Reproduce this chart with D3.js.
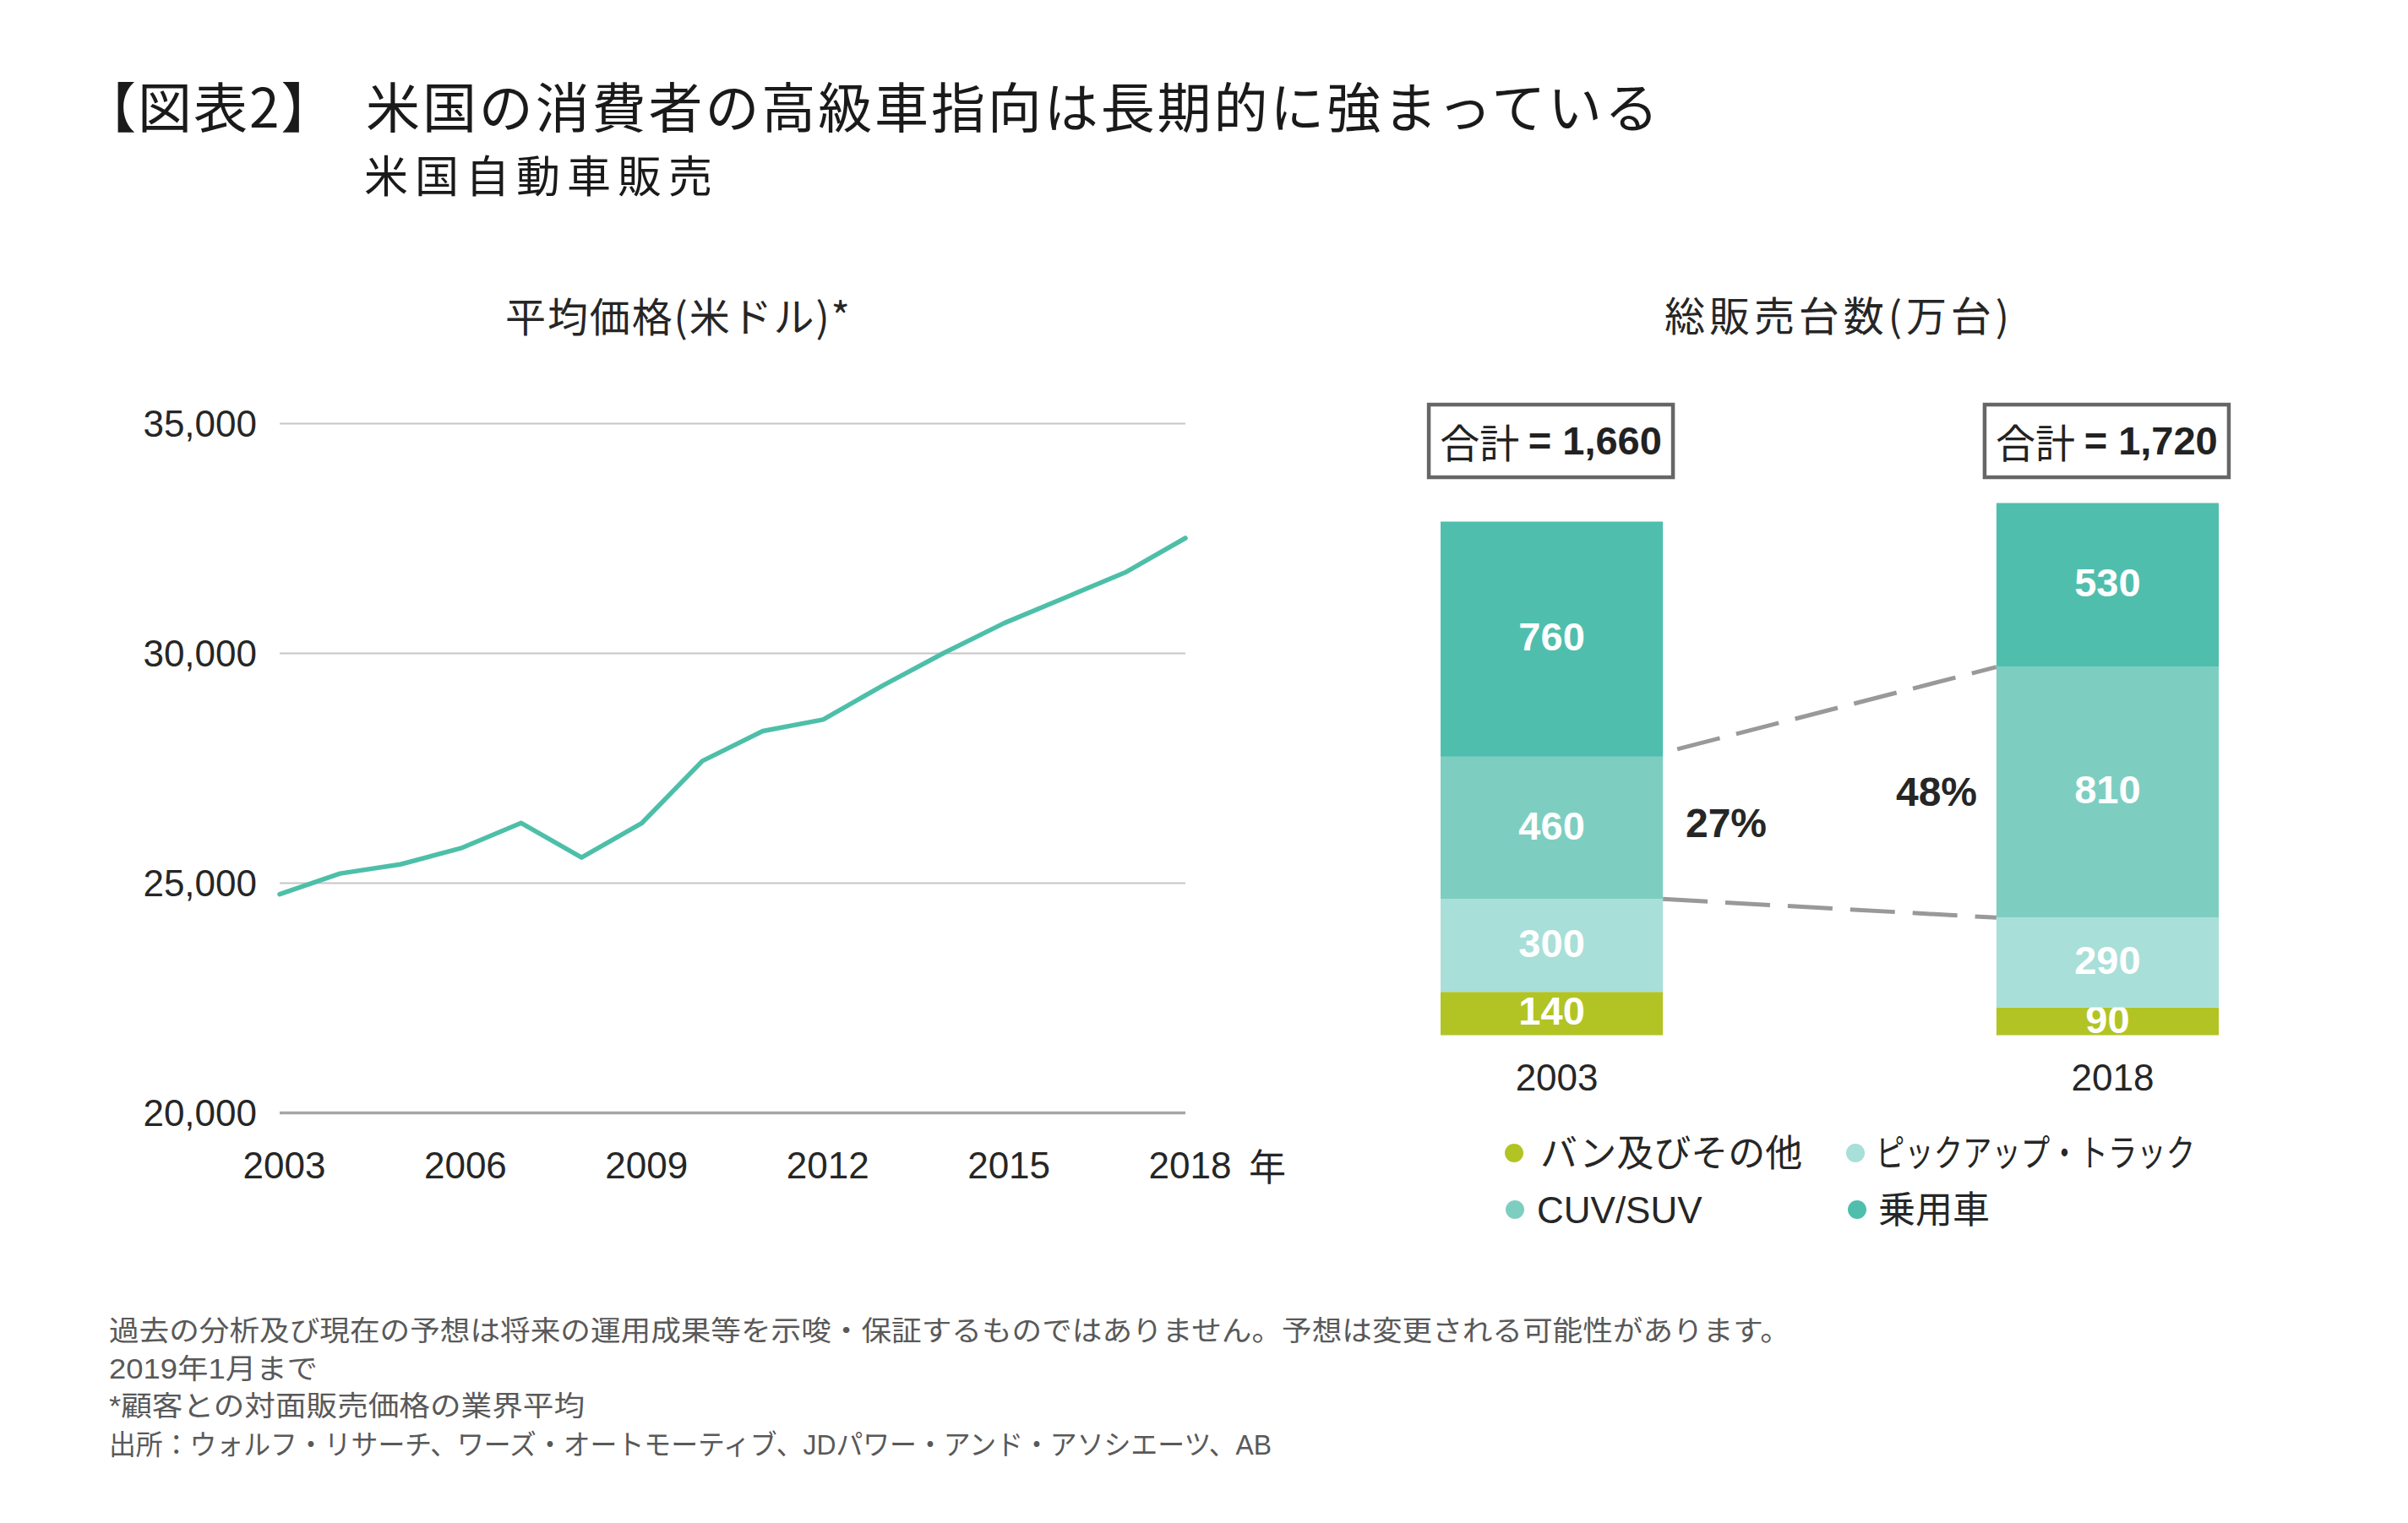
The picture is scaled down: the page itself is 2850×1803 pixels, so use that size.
<!DOCTYPE html>
<html><head><meta charset="utf-8">
<script src="https://cdn.jsdelivr.net/npm/d3@7"></script>
<style>
html,body{margin:0;padding:0;background:#fff;}
text{font-family:"Liberation Sans","Noto Sans CJK JP",sans-serif;}
.jp{font-family:"Noto Sans CJK JP","Liberation Sans",sans-serif;}
</style></head>
<body>
<svg id="chart" width="2850" height="1803"></svg>
<script>
// ---------- Data ----------
const titleTag = "【図表2】";
const titleText = "米国の消費者の高級車指向は長期的に強まっている";
const subtitleText = "米国自動車販売";
const leftTitle = "平均価格(米ドル)*";
const rightTitle = "総販売台数(万台)";

const priceYears = [2003,2004,2005,2006,2007,2008,2009,2010,2011,2012,2013,2014,2015,2016,2017,2018];
const avgPrice   = [24750,25200,25400,25750,26300,25550,26300,27650,28300,28550,29300,30000,30650,31200,31750,32500];
const priceTicks = [20000,25000,30000,35000];
const yearTicks  = [2003,2006,2009,2012,2015,2018];
const yearUnit   = "年";

const salesYears = ["2003","2018"];
const segmentNames = ["バン及びその他","ピックアップ・トラック","CUV/SUV","乗用車"];
const segmentKeys  = ["van","pickup","cuv","car"];
const vanOther = [140, 90];
const pickup   = [300, 290];
const cuvSuv   = [460, 810];
const cars     = [760, 530];
const totals   = [1660, 1720];
const cuvShare = ["27%","48%"];
const segmentColors = ["#b1c424","#a8dfd8","#7dcec1","#50bead"];

const footnotes = [
  "過去の分析及び現在の予想は将来の運用成果等を示唆・保証するものではありません。予想は変更される可能性があります。",
  "2019年1月まで",
  "*顧客との対面販売価格の業界平均",
  "出所：ウォルフ・リサーチ、ワーズ・オートモーティブ、JDパワー・アンド・アソシエーツ、AB"
];

// ---------- Drawing ----------
const svg = d3.select("#chart");
svg.append("rect").attr("width",2850).attr("height",1803).attr("fill","#fff");

// Titles
svg.append("text").attr("class","jp").attr("x",97).attr("y",123)
  .attr("dominant-baseline","central").attr("font-size",64).attr("fill","#1a1a1a")
  .attr("letter-spacing",2).text(titleTag);
svg.append("text").attr("class","jp").attr("x",433).attr("y",123)
  .attr("dominant-baseline","central").attr("font-size",64).attr("fill","#1a1a1a")
  .attr("textLength",1530).attr("lengthAdjust","spacing").text(titleText);
svg.append("text").attr("class","jp").attr("x",431).attr("y",205)
  .attr("dominant-baseline","central").attr("font-size",52).attr("fill","#1a1a1a")
  .attr("textLength",412).attr("lengthAdjust","spacing").text(subtitleText);

// ---------- Line chart ----------
const x = d3.scaleLinear().domain([2003,2018]).range([331,1403]);
const y = d3.scaleLinear().domain([20000,35000]).range([1317,501]);

svg.append("text").attr("class","jp").attr("x",598).attr("y",372)
  .attr("dominant-baseline","central").attr("font-size",48).attr("fill","#262626")
  .attr("textLength",408).attr("lengthAdjust","spacing").text(leftTitle);

const yAxis = svg.append("g").attr("transform","translate(331,0)")
  .call(d3.axisLeft(y).tickValues(priceTicks).tickSize(-(1403-331)).tickFormat(d3.format(",")).tickPadding(27));
yAxis.select(".domain").remove();
yAxis.selectAll(".tick line").attr("stroke",d=>d===20000?"#a6a6a6":"#c6c6c6").attr("stroke-width",d=>d===20000?3.5:2);
yAxis.selectAll(".tick text").attr("font-size",44).attr("fill","#262626")
  .attr("font-family","Liberation Sans").attr("dy","0.35em");

const xAxis = svg.append("g").attr("transform","translate(5,1317)")
  .call(d3.axisBottom(x).tickValues(yearTicks).tickSize(0).tickFormat(d3.format("d")).tickPadding(63));
xAxis.select(".domain").remove();
xAxis.selectAll(".tick text").attr("font-size",44).attr("fill","#262626")
  .attr("font-family","Liberation Sans").attr("dy","0.35em");
svg.append("text").attr("class","jp").attr("x",1500).attr("y",1379)
  .attr("text-anchor","middle").attr("dominant-baseline","central")
  .attr("font-size",44).attr("fill","#262626").text(yearUnit);

const line = d3.line().x((d,i)=>x(priceYears[i])).y(d=>y(d));
svg.append("path").datum(avgPrice).attr("d",line)
  .attr("fill","none").attr("stroke","#4dbfa9").attr("stroke-width",5.5)
  .attr("stroke-linejoin","round").attr("stroke-linecap","round");

// ---------- Stacked bars ----------
const rows = salesYears.map((yr,i)=>({year:yr, van:vanOther[i], pickup:pickup[i], cuv:cuvSuv[i], car:cars[i]}));
const stack = d3.stack().keys(segmentKeys)(rows);
const xb = d3.scaleBand().domain(salesYears).range([1705,2626]).paddingInner(0.6).paddingOuter(0);
const yb = d3.scaleLinear().domain([0,1720]).range([1225.5,595.5]);

svg.append("text").attr("class","jp").attr("x",1970).attr("y",371)
  .attr("dominant-baseline","central").attr("font-size",48).attr("fill","#262626")
  .attr("textLength",408).attr("lengthAdjust","spacing").text(rightTitle);

stack.forEach((layer,li)=>{
  const g = svg.append("g");
  g.selectAll("rect").data(layer).join("rect")
    .attr("x",d=>xb(d.data.year)).attr("width",xb.bandwidth())
    .attr("y",d=>yb(d[1])).attr("height",d=>yb(d[0])-yb(d[1]))
    .attr("fill",segmentColors[li]);
  g.selectAll("text").data(layer).join("text")
    .attr("x",d=>xb(d.data.year)+xb.bandwidth()/2)
    .attr("y",d=>(yb(d[0])+yb(d[1]))/2 - 3)
    .attr("text-anchor","middle").attr("dominant-baseline","central")
    .attr("font-size",47).attr("font-weight","bold").attr("fill","#fff")
    .text(d=>d[1]-d[0]);
});

// Dashed connectors (CUV/SUV share)
const cuvLayer = stack[2];
const b0 = cuvLayer[0], b1 = cuvLayer[1];
const x0r = xb(salesYears[0])+xb.bandwidth(), x1l = xb(salesYears[1]);
svg.append("line").attr("x1",x0r+17).attr("y1",yb(b0[1])-9).attr("x2",x1l).attr("y2",yb(b1[1]))
  .attr("stroke","#999").attr("stroke-width",5).attr("stroke-dasharray","52,20");
svg.append("line").attr("x1",x0r).attr("y1",yb(b0[0])).attr("x2",x1l).attr("y2",yb(b1[0]))
  .attr("stroke","#999").attr("stroke-width",5).attr("stroke-dasharray","53,21");

svg.append("text").attr("x",2043).attr("y",974).attr("text-anchor","middle").attr("dominant-baseline","central")
  .attr("font-size",48).attr("font-weight","bold").attr("fill","#262626").text(cuvShare[0]);
svg.append("text").attr("x",2292).attr("y",937).attr("text-anchor","middle").attr("dominant-baseline","central")
  .attr("font-size",48).attr("font-weight","bold").attr("fill","#262626").text(cuvShare[1]);

// Category labels
salesYears.forEach((yr,i)=>{
  svg.append("text").attr("x",xb(yr)+xb.bandwidth()/2+6).attr("y",1275)
    .attr("text-anchor","middle").attr("dominant-baseline","central")
    .attr("font-size",44).attr("fill","#262626").text(yr);
});

// Total boxes
const boxW = 289, boxH = 86;
totals.forEach((t,i)=>{
  const cx = xb(salesYears[i])+xb.bandwidth()/2 - 1;
  svg.append("rect").attr("x",cx-boxW/2).attr("y",479).attr("width",boxW).attr("height",boxH)
    .attr("fill","#fff").attr("stroke","#666").attr("stroke-width",4.5);
  const tx = svg.append("text").attr("x",cx).attr("y",521).attr("text-anchor","middle")
    .attr("dominant-baseline","central").attr("font-size",47).attr("fill","#222");
  tx.append("tspan").attr("class","jp").text("合計 ");
  tx.append("tspan").attr("font-weight","bold").text("= " + d3.format(",")(t));
});

// Legend
const legendPos = [
  {cx:1792, tx:1823, y:1365, len:null},
  {cx:2196, tx:2220, y:1365, len:378},
  {cx:1793, tx:1819, y:1432, len:null},
  {cx:2198, tx:2223, y:1432, len:null}
];
segmentNames.forEach((name,i)=>{
  const p = legendPos[i];
  svg.append("ellipse").attr("cx",p.cx).attr("cy",p.y).attr("rx",11).attr("ry",11).attr("fill",segmentColors[i]);
  const t = svg.append("text").attr("x",p.tx).attr("y",p.y).attr("dominant-baseline","central")
    .attr("font-size",44).attr("fill","#262626").text(name);
  if(p.len) t.attr("textLength",p.len).attr("lengthAdjust","spacingAndGlyphs");
});

// Footnotes
const fy = [1575, 1620, 1664, 1710];
const fLen = [1990, 247, 563, 1376];
footnotes.forEach((f,i)=>{
  const t = svg.append("text").attr("x",129).attr("y",fy[i]).attr("dominant-baseline","central")
    .attr("font-size",33).attr("fill","#595959").text(f);
  if(fLen[i]) t.attr("textLength",fLen[i]).attr("lengthAdjust","spacingAndGlyphs");
});
</script>
</body></html>
